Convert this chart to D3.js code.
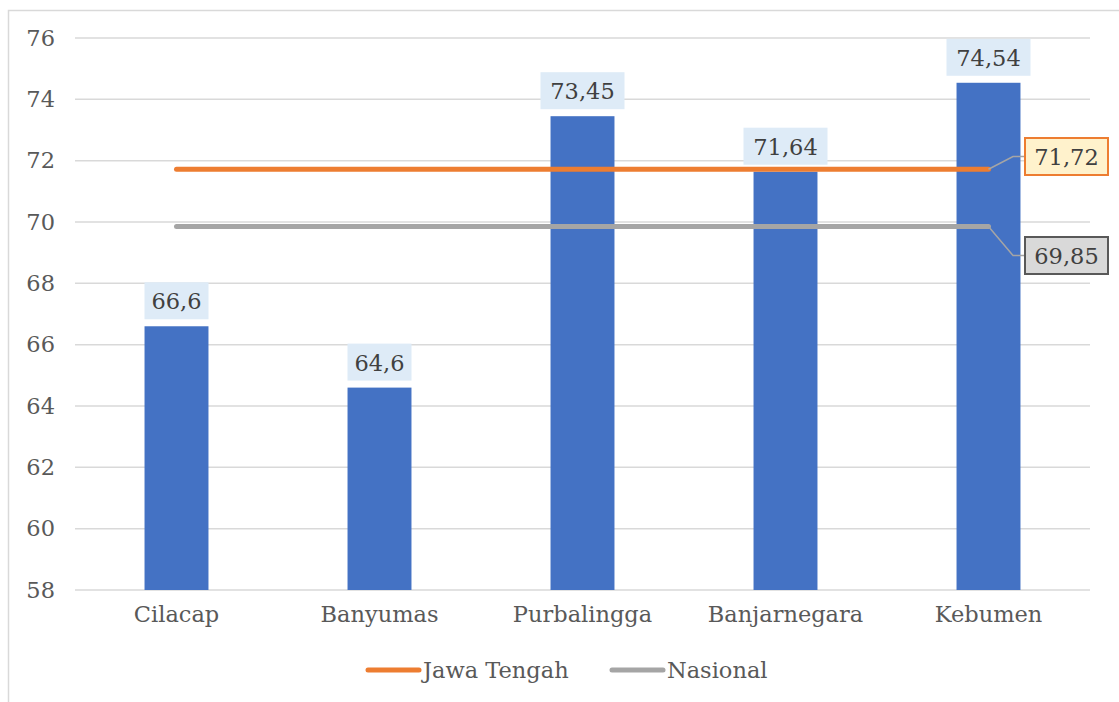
<!DOCTYPE html>
<html>
<head>
<meta charset="utf-8">
<script src="https://d3js.org/d3.v7.min.js"></script>
<style>
body {margin:0; background:white;}
svg {font-family: "DejaVu Serif", serif;}
</style>
</head>
<body>
<svg width="1119" height="702"></svg>
<script>
var categories = ["Cilacap", "Banyumas", "Purbalingga", "Banjarnegara", "Kebumen"];
var values = [66.6, 64.6, 73.45, 71.64, 74.54];
var jawaTengah = 71.72;
var nasional = 69.85;
var yTicks = [58, 60, 62, 64, 66, 68, 70, 72, 74, 76];

function fmt(v) { return String(v).replace(".", ","); }

var svg = d3.select("svg");
var plotLeft = 75, plotRight = 1090, plotTop = 38, plotBottom = 590;
var fontSize = "22.5px";

// chart border
svg.append("rect").attr("x", 8.5).attr("y", 10.5).attr("width", 1130).attr("height", 720)
  .attr("fill", "white").attr("stroke", "#d9d9d9").attr("stroke-width", 1.5);

var x = d3.scaleBand().domain(categories).range([plotLeft, plotRight]).paddingInner(0.685).paddingOuter(0.3425);
var y = d3.scaleLinear().domain([58, 76]).range([plotBottom, plotTop]);

// gridlines
svg.append("g").selectAll("line").data(yTicks).enter().append("line")
  .attr("x1", plotLeft).attr("x2", plotRight)
  .attr("y1", function(d) { return y(d); }).attr("y2", function(d) { return y(d); })
  .attr("stroke", "#d9d9d9").attr("stroke-width", 1.5);

// y axis labels
var yAxis = d3.axisLeft(y).tickValues(yTicks).tickSize(0).tickPadding(20);
var gy = svg.append("g").attr("transform", "translate(" + plotLeft + ",0)").call(yAxis);
gy.select(".domain").remove();
gy.selectAll("text").attr("fill", "#595959").style("font-size", fontSize).style("font-family", "DejaVu Serif");

// x axis labels
var xAxis = d3.axisBottom(x).tickSize(0).tickPadding(16);
var gx = svg.append("g").attr("transform", "translate(0," + plotBottom + ")").call(xAxis);
gx.select(".domain").remove();
gx.selectAll("text").attr("fill", "#595959").style("font-size", fontSize).style("font-family", "DejaVu Serif");

// bars
svg.append("g").selectAll("rect").data(values).enter().append("rect")
  .attr("x", function(d, i) { return x(categories[i]); })
  .attr("width", x.bandwidth())
  .attr("y", function(d) { return y(d); })
  .attr("height", function(d) { return plotBottom - y(d); })
  .attr("fill", "#4472c4");

// bar labels
var lab = svg.append("g").selectAll("g").data(values).enter().append("g")
  .attr("transform", function(d, i) {
    return "translate(" + (x(categories[i]) + x.bandwidth() / 2) + "," + (y(d) - 7) + ")";
  });
lab.append("rect")
  .attr("x", function(d) { return fmt(d).length > 4 ? -42 : -32; })
  .attr("width", function(d) { return fmt(d).length > 4 ? 84 : 64; })
  .attr("y", -37).attr("height", 37)
  .attr("fill", "#deebf7");
lab.append("text").attr("text-anchor", "middle").attr("y", -10)
  .attr("fill", "#404040").style("font-size", fontSize)
  .text(function(d) { return fmt(d); });

// reference lines
var x0 = x(categories[0]) + x.bandwidth() / 2;
var x1 = x(categories[categories.length - 1]) + x.bandwidth() / 2;
var lines = [
  {v: nasional, color: "#a5a5a5", fill: "#d9d9d9", border: "#595959", by: 237},
  {v: jawaTengah, color: "#ed7d31", fill: "#fff2cc", border: "#ed7d31", by: 138}
];
lines.forEach(function(l) {
  svg.append("line").attr("x1", x0).attr("x2", x1)
    .attr("y1", y(l.v)).attr("y2", y(l.v))
    .attr("stroke", l.color).attr("stroke-width", 5).attr("stroke-linecap", "round");
});
lines.forEach(function(l) {
  var bx = 1025, bh = 37, mid = l.by + bh / 2;
  svg.append("polyline")
    .attr("points", [[x1, y(l.v)], [bx - 12, mid], [bx, mid]].join(" "))
    .attr("fill", "none").attr("stroke", "#a5a5a5").attr("stroke-width", 1.5);
  svg.append("rect").attr("x", bx).attr("y", l.by).attr("width", 83).attr("height", bh)
    .attr("fill", l.fill).attr("stroke", l.border).attr("stroke-width", 2);
  svg.append("text").attr("x", bx + 41.5).attr("y", l.by + 27).attr("text-anchor", "middle")
    .attr("fill", "#404040").style("font-size", fontSize).text(fmt(l.v));
});

// legend
var legend = [
  {name: "Jawa Tengah", color: "#ed7d31", x: 366},
  {name: "Nasional", color: "#a5a5a5", x: 610}
];
legend.forEach(function(l) {
  svg.append("line").attr("x1", l.x + 2).attr("x2", l.x + 53).attr("y1", 670).attr("y2", 670)
    .attr("stroke", l.color).attr("stroke-width", 5).attr("stroke-linecap", "round");
  svg.append("text").attr("x", l.x + 57).attr("y", 678)
    .attr("fill", "#595959").style("font-size", fontSize).text(l.name);
});
</script>
</body>
</html>
